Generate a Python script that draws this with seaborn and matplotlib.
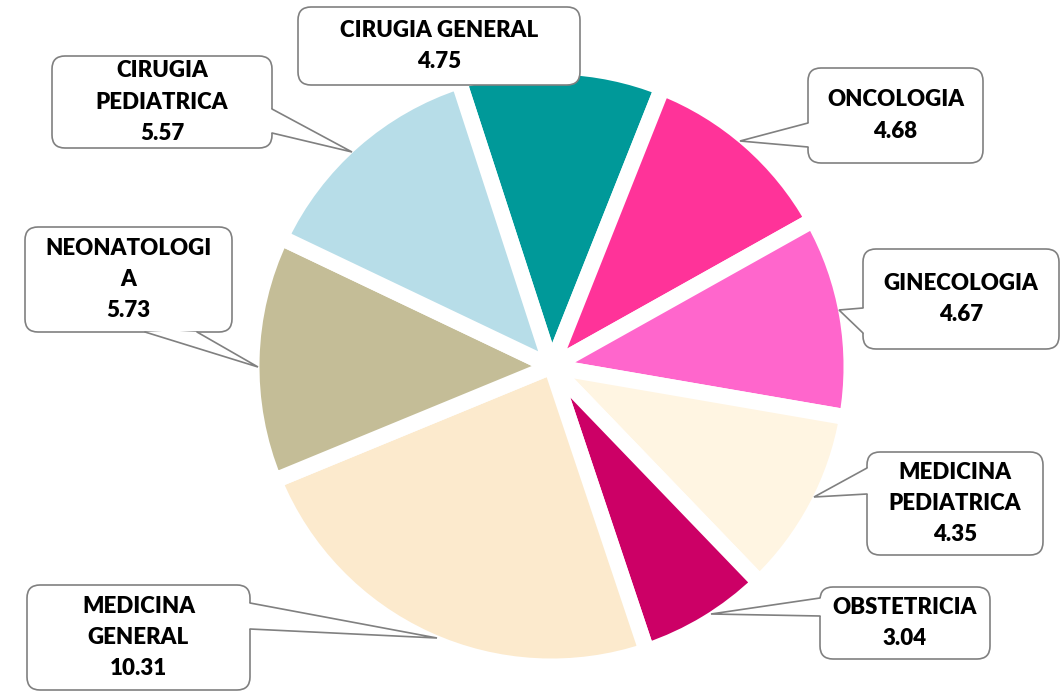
import matplotlib
matplotlib.use("Agg")
import matplotlib.pyplot as plt
from matplotlib.patches import FancyBboxPatch, Polygon
import seaborn as sns

# data
areas = ["CIRUGIA GENERAL", "ONCOLOGIA", "GINECOLOGIA", "MEDICINA\nPEDIATRICA",
         "OBSTETRICIA", "MEDICINA\nGENERAL", "NEONATOLOGI\nA", "CIRUGIA\nPEDIATRICA"]
values = [4.75, 4.68, 4.67, 4.35, 3.04, 10.31, 5.73, 5.57]
colors = ["#009999", "#FF3399", "#FF66CC", "#FFF5E2",
          "#CC0066", "#FCEACD", "#C4BD97", "#B7DDE8"]

# label boxes in image pixels (x0, y0, x1, y1), callout base points and tip (top-left origin)
boxes = [(298, 7, 580, 85), (808, 68, 983, 163), (863, 249, 1059, 349), (867, 452, 1043, 555),
         (820, 587, 990, 659), (27, 585, 250, 690), (25, 227, 232, 332), (52, 56, 272, 148)]
callouts = [None,
            ((808, 123), (808, 147), (740, 141)),
            ((863, 308), (863, 333), (839, 310)),
            ((867, 468), (867, 494), (814, 497)),
            ((820, 598), (820, 616), (711, 614)),
            ((250, 603), (250, 629), (437, 638)),
            ((145, 332), (197, 332), (258, 367)),
            ((272, 109), (272, 133), (352, 152))]

W, H = 1061, 691
sns.set_theme(style="white")
plt.rcParams['font.family'] = ['Lato', 'DejaVu Sans']

fig = plt.figure(figsize=(W / 100, H / 100), dpi=100)
ax = fig.add_axes([0, 0, 1, 1])

ax.pie(values, colors=colors, startangle=108, counterclock=False,
       radius=300, center=(551.5, H - 366.5),
       wedgeprops=dict(edgecolor="white", linewidth=11.5, joinstyle="round"))

ax.set_xlim(0, W)
ax.set_ylim(0, H)
ax.set_aspect("equal")
ax.axis("off")

gray = "#808080"


def fy(y):
    return H - y


for name, val, box, co in zip(areas, values, boxes, callouts):
    x0, y0, x1, y1 = box
    patch = FancyBboxPatch((x0, fy(y1)), x1 - x0, y1 - y0,
                           boxstyle="round,pad=0,rounding_size=13",
                           facecolor="white", edgecolor=gray, linewidth=1.2, zorder=5)
    ax.add_patch(patch)
    if co is not None:
        (ax_, ay_), (bx_, by_), (tx, ty) = co
        # push base a bit inside the box to hide the border there
        if ax_ == bx_:
            d = 3 if tx < ax_ else -3
            inner = [(ax_ + d, fy(ay_)), (bx_ + d, fy(by_))]
        else:
            d = 3
            inner = [(bx_, fy(by_) + d), (ax_, fy(ay_) + d)]
        poly = Polygon([inner[0], (ax_, fy(ay_)), (tx, fy(ty)), (bx_, fy(by_)), inner[1]],
                       closed=True, facecolor="white", edgecolor="none", zorder=6)
        ax.add_patch(poly)
        ax.plot([ax_, tx, bx_], [fy(ay_), fy(ty), fy(by_)], color=gray, lw=1.2, zorder=7,
                solid_joinstyle="miter")
    ax.text((x0 + x1) / 2, fy((y0 + y1) / 2), f"{name}\n{val:.2f}",
            ha="center", va="center", multialignment="center",
            fontsize=16, fontweight="heavy", color="black", linespacing=1.6, zorder=8)

fig.savefig("out.png", dpi=100, facecolor="white")
